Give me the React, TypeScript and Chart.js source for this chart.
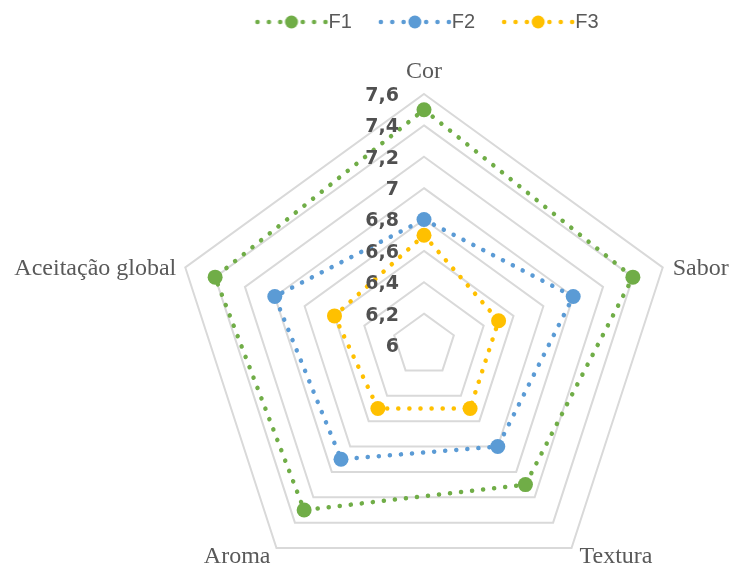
import React, { useEffect, useRef } from 'react';
import { Chart, registerables } from 'chart.js';

Chart.register(...registerables);

const CATEGORIES = ['Cor', 'Sabor', 'Textura', 'Aroma', 'Aceitação global'];
const SERIES_NAMES = ['F1', 'F2', 'F3'];
const F1 = [7.5, 7.4, 7.1, 7.3, 7.4];
const F2 = [6.8, 7.0, 6.8, 6.9, 7.0];
const F3 = [6.7, 6.5, 6.5, 6.5, 6.6];
const SCALE_MIN = 6;
const SCALE_MAX = 7.6;
const SCALE_STEP = 0.2;

const COLORS = ['#70AD47', '#5B9BD5', '#FFC000'];
const TEXT_COLOR = '#595959';

function makeLegendImage(color: string): HTMLCanvasElement {
  const c = document.createElement('canvas');
  c.width = 76;
  c.height = 16;
  const ctx = c.getContext('2d')!;
  ctx.fillStyle = color;
  const cx = 38;
  const cy = 8;
  [-34, -22.6, -11.3, 11.3, 22.6, 34].forEach((dx) => {
    ctx.beginPath();
    ctx.arc(cx + dx, cy, 2.3, 0, Math.PI * 2);
    ctx.fill();
  });
  ctx.beginPath();
  ctx.arc(cx, cy, 6.5, 0, Math.PI * 2);
  ctx.fill();
  return c;
}

const fmt = (v: number) => String(Math.round(v * 10) / 10).replace('.', ',');

const labelsPlugin = {
  id: 'customRadarText',
  afterDatasetsDraw(chart: any) {
    const scale = chart.scales.r;
    const ctx = chart.ctx;
    const cx = scale.xCenter;
    const cy = scale.yCenter;
    const R = scale.drawingArea;
    ctx.save();
    // point labels
    ctx.font = '24px "Liberation Serif", "Times New Roman", serif';
    ctx.fillStyle = TEXT_COLOR;
    scale._pointLabels.forEach((lab: string, i: number) => {
      const v = scale.getPointPosition(i, R);
      const s = (v.x - cx) / R;
      const c = (cy - v.y) / R;
      let x = v.x;
      let y = v.y;
      if (Math.abs(s) < 0.1) {
        ctx.textAlign = 'center';
        ctx.textBaseline = 'alphabetic';
        y = v.y - 16;
      } else if (c > 0) {
        ctx.textAlign = s > 0 ? 'left' : 'right';
        ctx.textBaseline = 'middle';
        x = v.x + (s > 0 ? 10 : -9);
        y = v.y + 1;
      } else {
        ctx.textAlign = s > 0 ? 'left' : 'right';
        ctx.textBaseline = 'alphabetic';
        x = v.x + (s > 0 ? 8 : -6);
        y = v.y + 15;
      }
      ctx.fillText(lab, x, y);
    });
    // tick labels
    ctx.font = 'bold 19px "DejaVu Sans", sans-serif';
    ctx.fillStyle = '#505050';
    ctx.textAlign = 'right';
    ctx.textBaseline = 'middle';
    scale.ticks.forEach((t: any) => {
      const d = scale.getDistanceFromCenterForValue(t.value);
      ctx.fillText(t.label, cx - 25, cy - d + 2);
    });
    ctx.restore();
  },
};

export default function App() {
  const ref = useRef<HTMLCanvasElement | null>(null);

  useEffect(() => {
    if (!ref.current) return;
    const seriesData = [F1, F2, F3];
    const chart = new Chart(ref.current, {
      type: 'radar',
      data: {
        labels: CATEGORIES,
        datasets: SERIES_NAMES.map((name, i) => ({
          label: name,
          data: seriesData[i],
          borderColor: COLORS[i],
          backgroundColor: COLORS[i],
          pointBackgroundColor: COLORS[i],
          pointBorderColor: COLORS[i],
          pointBorderWidth: 0,
          pointRadius: 7.5,
          pointHoverRadius: 7.5,
          borderWidth: 4.5,
          borderDash: [0.1, 11],
          borderCapStyle: 'round',
          borderJoinStyle: 'round',
          fill: false,
          tension: 0,
          clip: false,
        })),
      },
      options: {
        responsive: false,
        animation: false,
        events: [],
        layout: { padding: { top: -24, left: 134, right: 0, bottom: 0 } },
        plugins: {
          tooltip: { enabled: false },
          legend: {
            display: true,
            position: 'top',
            labels: {
              usePointStyle: true,
              pointStyleWidth: 54,
              padding: 36,
              color: TEXT_COLOR,
              font: { family: '"Liberation Sans", Arial, sans-serif', size: 20 },
              generateLabels: (ch: any) => {
                const items = (Chart.defaults as any).plugins.legend.labels.generateLabels(ch);
                return items.map((it: any, i: number) => ({ ...it, pointStyle: makeLegendImage(COLORS[i]) }));
              },
            },
          },
        },
        scales: {
          r: {
            min: SCALE_MIN,
            max: SCALE_MAX,
            beginAtZero: false,
            ticks: {
              display: false,
              stepSize: SCALE_STEP,
              callback: (v: any) => fmt(Number(v)),
            },
            pointLabels: { display: false },
            angleLines: { display: false },
            grid: { color: '#d9d9d9', lineWidth: 2 },
            afterFit: (scale: any) => {
              scale.xCenter = 424;
              scale.yCenter = 345;
              scale.drawingArea = 251;
            },
          },
        },
      } as any,
      plugins: [labelsPlugin],
    });
    return () => chart.destroy();
  }, []);

  return (
    <div style={{ position: 'absolute', left: 0, top: 0, width: 729, height: 567, background: '#fff' }}>
      <canvas ref={ref} width={729} height={567} style={{ width: 729, height: 567, display: 'block' }} />
    </div>
  );
}
